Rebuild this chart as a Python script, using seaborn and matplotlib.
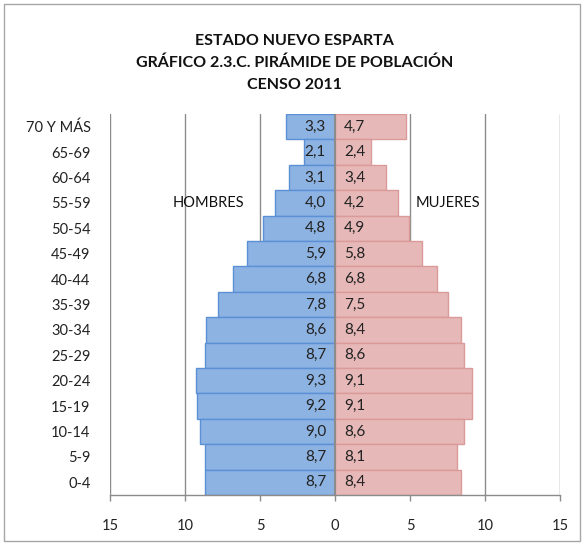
import matplotlib
matplotlib.use("Agg")
import matplotlib.pyplot as plt
import seaborn as sns
import pandas as pd
from matplotlib.patches import Rectangle

edades = ["70 Y MÁS", "65-69", "60-64", "55-59", "50-54", "45-49", "40-44",
          "35-39", "30-34", "25-29", "20-24", "15-19", "10-14", "5-9", "0-4"]
hombres = [3.3, 2.1, 3.1, 4.0, 4.8, 5.9, 6.8, 7.8, 8.6, 8.7, 9.3, 9.2, 9.0, 8.7, 8.7]
mujeres = [4.7, 2.4, 3.4, 4.2, 4.9, 5.8, 6.8, 7.5, 8.4, 8.6, 9.1, 9.1, 8.6, 8.1, 8.4]
xticks = [-15, -10, -5, 0, 5, 10, 15]
xticklabels = ["15", "10", "5", "0", "5", "10", "15"]
titulo = "ESTADO NUEVO ESPARTA\nGRÁFICO 2.3.C. PIRÁMIDE DE POBLACIÓN\nCENSO 2011"

sns.set_theme(style="white")
plt.rcParams['font.family'] = ['Lato', 'DejaVu Sans']

df_h = pd.DataFrame({"edad": edades, "valor": [-v for v in hombres]})
df_m = pd.DataFrame({"edad": edades, "valor": mujeres})

fig = plt.figure(figsize=(5.84, 5.46), dpi=100)
ax = fig.add_axes([110/584, 1-495/546, 450/584, (495-114)/546])

sns.barplot(data=df_h, x="valor", y="edad", orient="h", order=edades, width=1.0,
            color="#8DB3E2", edgecolor="#5B8FD6", linewidth=1.0, saturation=1, ax=ax)
sns.barplot(data=df_m, x="valor", y="edad", orient="h", order=edades, width=1.0,
            color="#E6B9B8", edgecolor="#DA9A99", linewidth=1.0, saturation=1, ax=ax)

ax.set_xlim(-15, 15)
ax.set_ylim(len(edades) - 0.5, -0.5)
for xv in [-15, -10, -5, 5, 10, 15]:
    ax.axvline(xv, color="#8C8C8C", lw=1.0, zorder=0)
ax.axvline(0, color="#8C8C8C", lw=1.5, zorder=3)

for i, (h, m) in enumerate(zip(hombres, mujeres)):
    ax.text(-0.6, i, f"{h:.1f}".replace(".", ","), ha="right", va="center",
            fontsize=11, color="#222222", zorder=4)
    ax.text(0.6, i, f"{m:.1f}".replace(".", ","), ha="left", va="center",
            fontsize=11, color="#222222", zorder=4)

ax.text(-10.8, 3, "HOMBRES", ha="left", va="center", fontsize=10.5, color="#111111")
ax.text(5.35, 3, "MUJERES", ha="left", va="center", fontsize=10.5, color="#111111")

ax.set_xticks(xticks)
ax.set_xticklabels(xticklabels, fontsize=10.5, color="#222222")
ax.tick_params(axis="x", direction="out", length=4, width=1, color="#8C8C8C", pad=13, bottom=True)
ax.tick_params(axis="y", length=0, pad=14, labelsize=10.5, labelcolor="#222222")
ax.set_xlabel("")
ax.set_ylabel("")
for s in ["top", "right", "left"]:
    ax.spines[s].set_visible(False)
ax.spines["bottom"].set_color("#8C8C8C")
ax.spines["bottom"].set_linewidth(1.0)

fig.text(0.505, 1-63/546, titulo, ha="center", va="center", fontsize=11.5,
         fontweight="bold", linespacing=1.7, color="#111111")

fig.patches.append(Rectangle((4/584, 1-541/546), 576/584, 537/546, transform=fig.transFigure,
                             fill=False, edgecolor="#A6A6A6", lw=1.0))

fig.savefig("out.png", dpi=100)
